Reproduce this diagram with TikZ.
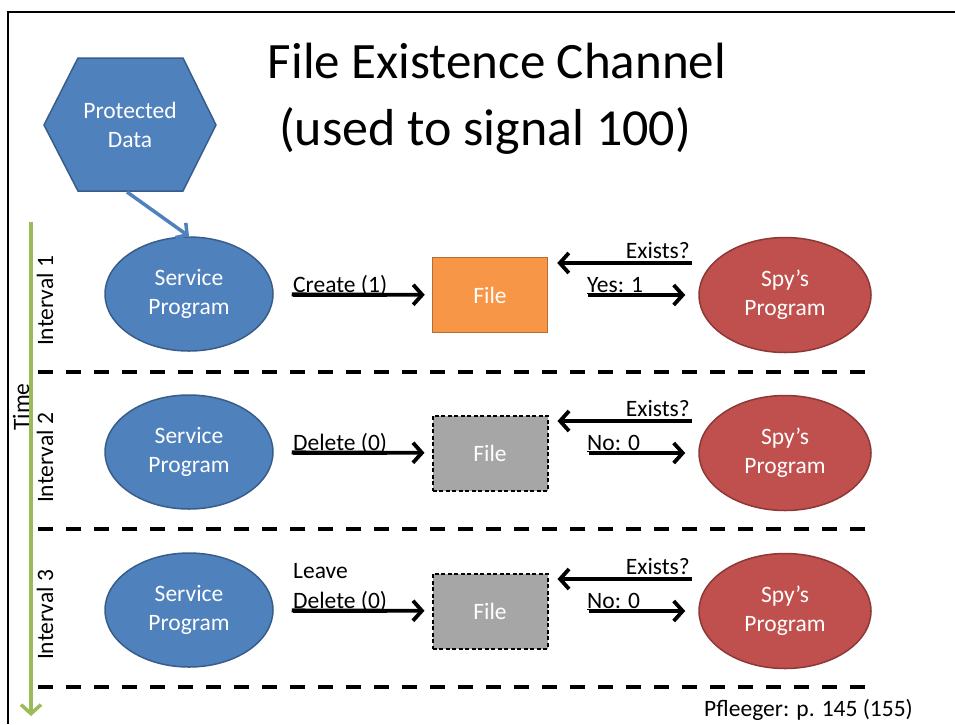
\documentclass[tikz,border=0pt]{standalone}
\usepackage{fontspec}
\setmainfont{Carlito}
\usepackage{tikz}
\usetikzlibrary{arrows.meta, positioning, shapes.geometric}
\definecolor{mBlue}{HTML}{4F81BD}
\definecolor{mBlueDark}{HTML}{385D8A}
\definecolor{mRed}{HTML}{C0504D}
\definecolor{mRedDark}{HTML}{8C3836}
\definecolor{mOrange}{HTML}{F79646}
\definecolor{mOrangeDark}{HTML}{B66D31}
\definecolor{mGray}{HTML}{A6A6A6}
\definecolor{mGreen}{HTML}{9BBB59}

\begin{document}
\begin{tikzpicture}[x=1pt, y=-1pt,
      every node/.style={font=\fontsize{23.5}{29}\selectfont},
      srv/.style={ellipse, draw=mBlueDark, line width=1.5pt, fill=mBlue, text=white,
                  minimum width=168pt, minimum height=114pt, inner sep=0pt, align=center},
      spy/.style={ellipse, draw=mRedDark, line width=1.5pt, fill=mRed, text=white,
                  minimum width=172pt, minimum height=115pt, inner sep=0pt, align=center},
      filebox/.style={draw=mOrangeDark, line width=1.5pt, fill=mOrange, text=white,
                      minimum width=115pt, minimum height=75pt, inner sep=0pt},
      gonebox/.style={draw=black, line width=2pt, dash pattern=on 4pt off 2.5pt, fill=mGray,
                      text=white, minimum width=115pt, minimum height=75pt, inner sep=0pt},
      sig/.style={line width=3.8pt, -{Straight Barb[length=9pt, width=20pt]}},
      lbl/.style={inner sep=0pt},
      sep/.style={line width=4pt, dash pattern=on 15pt off 13pt}]
    \useasboundingbox (0,0) rectangle (955,724);
    \draw[line width=2.5pt] (8,724) -- (8,12) -- (955,12);

    % title
    \node[anchor=base, font=\fontsize{51}{62}\selectfont] (title1) at (497,78) {File Existence Channel};
    \node[anchor=base, font=\fontsize{52}{62}\selectfont] (title2) at (485,145) {(used to signal 100)};

    % protected data
    \filldraw[fill=mBlue, draw=mBlueDark, line width=1.5pt]
      (44,125) -- (78,58) -- (183,58) -- (216,125) -- (183,191) -- (78,191) -- cycle;
    \node[text=white, align=center] (data) at (130,125) {Protected\\Data};
    \coordinate (hexbot) at (127,192);

    % time axis
    \coordinate (t0) at (31,222);
    \coordinate (t1) at (31,716);
    \draw[mGreen, line width=3.5pt, -{Straight Barb[length=9pt, width=20pt]}] (t0) -- (t1);
    \node[rotate=90] (time) at (21,407) {Time};
    \node[rotate=90] (iv1) at (45,301) {Interval 1};
    \node[rotate=90] (iv2) at (45,458) {Interval 2};
    \node[rotate=90] (iv3) at (45,615) {Interval 3};

    % separators
    \foreach \y in {372,529,687}
      \draw[sep] (38,\y) -- (868,\y);

    % interval 1
    \node[srv] (srv1) at (189,294) {Service\\Program};
    \node[filebox] (file1) at (490,295) {File};
    \node[spy] (spy1) at (785,295) {Spy’s\\Program};
    \draw[mBlue, line width=3.5pt, -{Straight Barb[length=8pt, width=18pt]}] (hexbot) -- (srv1.north);
    \coordinate (ask1) at (692,263);
    \draw[sig, shorten <=18pt, shorten >=7pt] (srv1) -- (file1);
    \draw[sig, shorten >=9pt] (ask1) -- (file1.east |- ask1);
    \draw[sig, shorten <=40pt, shorten >=13pt] (file1) -- (spy1);
    \node[lbl, anchor=base west] (create) at (293,292) {\underline{Create (1)}};
    \node[lbl, anchor=base east] (exists1) at (690,258) {Exists?};
    \node[lbl, anchor=base west] (yes) at (587,292) {\underline{Yes: 1}};

    % interval 2
    \node[srv] (srv2) at (189,452) {Service\\Program};
    \node[gonebox] (file2) at (490,453) {File};
    \node[spy] (spy2) at (785,453) {Spy’s\\Program};
    \coordinate (ask2) at (692,421);
    \draw[sig, shorten <=18pt, shorten >=7pt] (srv2) -- (file2);
    \draw[sig, shorten >=9pt] (ask2) -- (file2.east |- ask2);
    \draw[sig, shorten <=40pt, shorten >=13pt] (file2) -- (spy2);
    \node[lbl, anchor=base west] (delete2) at (293,450) {\underline{Delete (0)}};
    \node[lbl, anchor=base east] (exists2) at (690,416) {Exists?};
    \node[lbl, anchor=base west] (no2) at (587,450) {\underline{No: 0}};

    % interval 3
    \node[srv] (srv3) at (189,610) {Service\\Program};
    \node[gonebox] (file3) at (490,611) {File};
    \node[spy] (spy3) at (785,611) {Spy’s\\Program};
    \coordinate (ask3) at (692,579);
    \draw[sig, shorten <=18pt, shorten >=7pt] (srv3) -- (file3);
    \draw[sig, shorten >=9pt] (ask3) -- (file3.east |- ask3);
    \draw[sig, shorten <=40pt, shorten >=13pt] (file3) -- (spy3);
    \node[lbl, anchor=base west] (leave) at (293,578) {Leave};
    \node[lbl, anchor=base west] (delete3) at (293,608) {\underline{Delete (0)}};
    \node[lbl, anchor=base east] (exists3) at (690,574) {Exists?};
    \node[lbl, anchor=base west] (no3) at (587,608) {\underline{No: 0}};

    \node[lbl, anchor=base east] (src) at (913,716) {Pfleeger: p. 145 (155)};
  \end{tikzpicture}
\end{document}
